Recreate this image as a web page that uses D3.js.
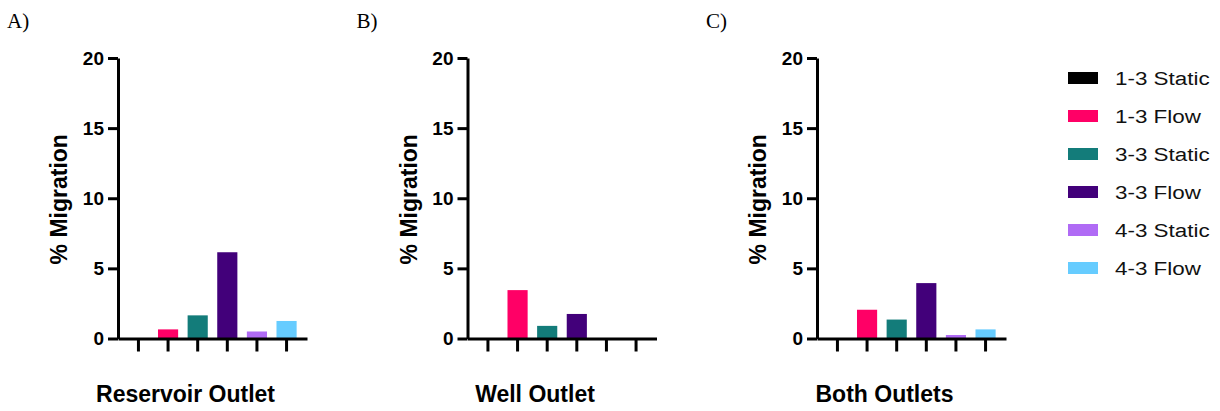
<!DOCTYPE html>
<html>
<head>
<meta charset="utf-8">
<script src="https://cdn.jsdelivr.net/npm/d3@7"></script>
<style>
  body { margin: 0; background: #fff; }
  svg { display: block; }
</style>
</head>
<body>
<svg id="chart" width="1220" height="411"></svg>
<script>
// Groups (one bar per group in every panel)
var groups = ['1-3 Static', '1-3 Flow', '3-3 Static', '3-3 Flow', '4-3 Static', '4-3 Flow'];
var groupColors = ['#000000', '#ff0066', '#137c7a', '#42007a', '#b06bf5', '#66ccff'];

// Panels
var panelLetters = ['A)', 'B)', 'C)'];
var panelTitles = ['Reservoir Outlet', 'Well Outlet', 'Both Outlets'];

// % migration per panel, in group order
var reservoirValues = [0, 0.65, 1.65, 6.15, 0.5, 1.25];
var wellValues = [0, 3.45, 0.9, 1.75, 0, 0];
var bothValues = [0, 2.05, 1.35, 3.95, 0.25, 0.65];
var panelValues = [reservoirValues, wellValues, bothValues];

var yTicks = [0, 5, 10, 15, 20];

var svg = d3.select('#chart');
var panelX = [118, 467.5, 817];
var plotWidth = 189;
var yTop = 58, yBottom = 338.5;

var y = d3.scaleLinear().domain([0, 20]).range([yBottom, yTop]);

panelX.forEach(function(px, i){
  var g = svg.append('g').attr('transform', 'translate(' + px + ',0)');

  var x = d3.scaleBand()
    .domain(groups)
    .range([0, plotWidth])
    .paddingInner(0.32)
    .paddingOuter(0.35);

  // Panel letter
  svg.append('text')
    .attr('x', px - 111)
    .attr('y', 28)
    .attr('font-family', 'Liberation Serif, Times New Roman, serif')
    .attr('font-size', 21)
    .attr('fill', '#000')
    .text(panelLetters[i]);

  // Bars
  g.selectAll('rect.bar')
    .data(panelValues[i])
    .enter()
    .append('rect')
    .attr('class', 'bar')
    .attr('x', function(d, j){ return x(groups[j]); })
    .attr('width', x.bandwidth())
    .attr('y', function(d){ return y(d); })
    .attr('height', function(d){ return y(0) - y(d); })
    .attr('fill', function(d, j){ return groupColors[j]; });

  // Y axis
  var yAxis = g.append('g')
    .call(d3.axisLeft(y).tickValues(yTicks).tickSize(10).tickPadding(4).tickSizeOuter(0));
  yAxis.select('.domain').attr('stroke', '#000').attr('stroke-width', 3);
  yAxis.selectAll('.tick line').attr('stroke', '#000').attr('stroke-width', 3);
  yAxis.selectAll('.tick text')
    .attr('font-family', 'Liberation Sans, Arial, sans-serif')
    .attr('font-weight', 'bold')
    .attr('font-size', 19)
    .attr('fill', '#000');

  // X axis (no labels)
  var xAxis = g.append('g')
    .attr('transform', 'translate(0,' + yBottom + ')')
    .call(d3.axisBottom(x).tickSize(13).tickSizeOuter(0).tickFormat(''));
  xAxis.select('.domain').attr('stroke', '#000').attr('stroke-width', 3);
  xAxis.selectAll('.tick line').attr('stroke', '#000').attr('stroke-width', 3);

  // Y title
  g.append('text')
    .attr('transform', 'translate(-51,' + ((yTop + yBottom) / 2 + 1) + ') rotate(-90)')
    .attr('text-anchor', 'middle')
    .attr('font-family', 'Liberation Sans, Arial, sans-serif')
    .attr('font-weight', 'bold')
    .attr('font-size', 23)
    .attr('fill', '#000')
    .text('% Migration');

  // X title
  g.append('text')
    .attr('x', plotWidth / 2 - 27)
    .attr('y', 401.5)
    .attr('text-anchor', 'middle')
    .attr('font-family', 'Liberation Sans, Arial, sans-serif')
    .attr('font-weight', 'bold')
    .attr('font-size', 23)
    .attr('fill', '#000')
    .text(panelTitles[i]);
});

// Legend
var legend = svg.append('g').attr('transform', 'translate(1068,78)');
var rows = legend.selectAll('g.row')
  .data(groups)
  .enter()
  .append('g')
  .attr('class', 'row')
  .attr('transform', function(d, i){ return 'translate(0,' + (i * 38) + ')'; });
rows.append('rect')
  .attr('x', 0)
  .attr('y', -6)
  .attr('width', 30)
  .attr('height', 12)
  .attr('fill', function(d, i){ return groupColors[i]; });
// legend labels are drawn a bit wide in the original
rows.append('text')
  .attr('transform', 'translate(47,7) scale(1.18,1)')
  .attr('font-family', 'Liberation Sans, Arial, sans-serif')
  .attr('font-size', 19)
  .attr('fill', '#111')
  .text(function(d){ return d; });
</script>
</body>
</html>
